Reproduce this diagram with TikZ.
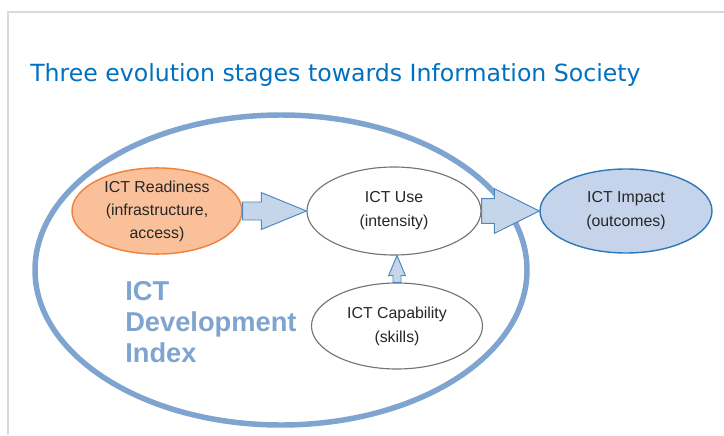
\documentclass[tikz,border=0pt]{standalone}
\usepackage{fontspec}
\setmainfont{Liberation Sans}
\newfontfamily\titlefont{DejaVu Sans}
\usetikzlibrary{calc,shapes.geometric}

\definecolor{ringblue}{RGB}{126,164,207}
\definecolor{titleblue}{RGB}{0,112,192}
\definecolor{arrowfill}{RGB}{198,214,234}
\definecolor{arrowline}{RGB}{79,135,192}
\definecolor{impactfill}{RGB}{197,212,234}
\definecolor{impactline}{RGB}{46,120,184}
\definecolor{readyfill}{RGB}{250,192,154}
\definecolor{readyline}{RGB}{240,128,60}
\definecolor{framegray}{RGB}{217,217,217}

% block arrow: start, tip, half shaft width, half head width, head length
\newcommand{\blockarrow}[5]{%
  \coordinate (hb) at ($(#2)!#5!(#1)$);
  \draw[fatarrow] ($(#1)!#3!90:(#2)$) -- ($(hb)!#3!-90:(#1)$)
    -- ($(hb)!#4!-90:(#1)$) -- (#2) -- ($(hb)!#4!90:(#1)$)
    -- ($(hb)!#3!90:(#1)$) -- ($(#1)!#3!-90:(#2)$) -- cycle;}

\begin{document}
\begin{tikzpicture}[
    stage/.style={ellipse, draw=gray!90!black, fill=white, line width=0.8pt,
      align=center, text=black!85, font=\fontsize{11.3}{17}\selectfont,
      inner sep=0pt},
    fatarrow/.style={draw=arrowline, fill=arrowfill, line width=0.7pt, line join=miter}
  ]
    \useasboundingbox (0,0) rectangle (18.1,10.875);

    % frame of the slide
    \draw[framegray, line width=1.4pt] (0.2,0) -- (0.2,10.575) -- (18.1,10.575);

    \node[anchor=base west, inner sep=0, text=titleblue,
      font=\titlefont\fontsize{16.8}{20}\selectfont] (title) at (0.75,8.825)
      {Three evolution stages towards Information Society};

    % the index ring
    \draw[ringblue, line width=3.9pt] (7.025,4.125) ellipse (6.15 and 3.875);
    \node[anchor=west, inner sep=0, align=left, text=ringblue,
      font=\bfseries\fontsize{19.4}{22}\selectfont] (idi) at (3.125,2.8125)
      {ICT\\Development\\Index};

    % stages
    \node[stage, fill=readyfill, draw=readyline, line width=1pt,
      minimum width=4.25cm, minimum height=1.875cm,
      font=\fontsize{11.3}{16.4}\selectfont] (ready) at (3.925,5.6)
      {ICT Readiness\\(infrastructure,\\access)};
    \node[stage, minimum width=4.35cm, minimum height=2.2cm] (use) at (9.85,5.6)
      {ICT Use\\(intensity)};
    \node[stage, fill=impactfill, draw=impactline, line width=1pt,
      minimum width=4.3cm, minimum height=2.1cm] (impact) at (15.65,5.6)
      {ICT Impact\\(outcomes)};
    \node[stage, minimum width=4.275cm, minimum height=2.15cm] (capab) at (9.925,2.725)
      {ICT Capability\\(skills)};

    % arrows between the stages
    \blockarrow{ready.east}{use.west}{0.225cm}{0.46cm}{1.125cm}
    \blockarrow{use.east}{impact.west}{0.31cm}{0.56cm}{1.125cm}
    \coordinate (usefoot) at (capab.north |- use.south);
    \blockarrow{capab.north}{usefoot}{0.1cm}{0.21cm}{0.5cm}
\end{tikzpicture}
\end{document}
